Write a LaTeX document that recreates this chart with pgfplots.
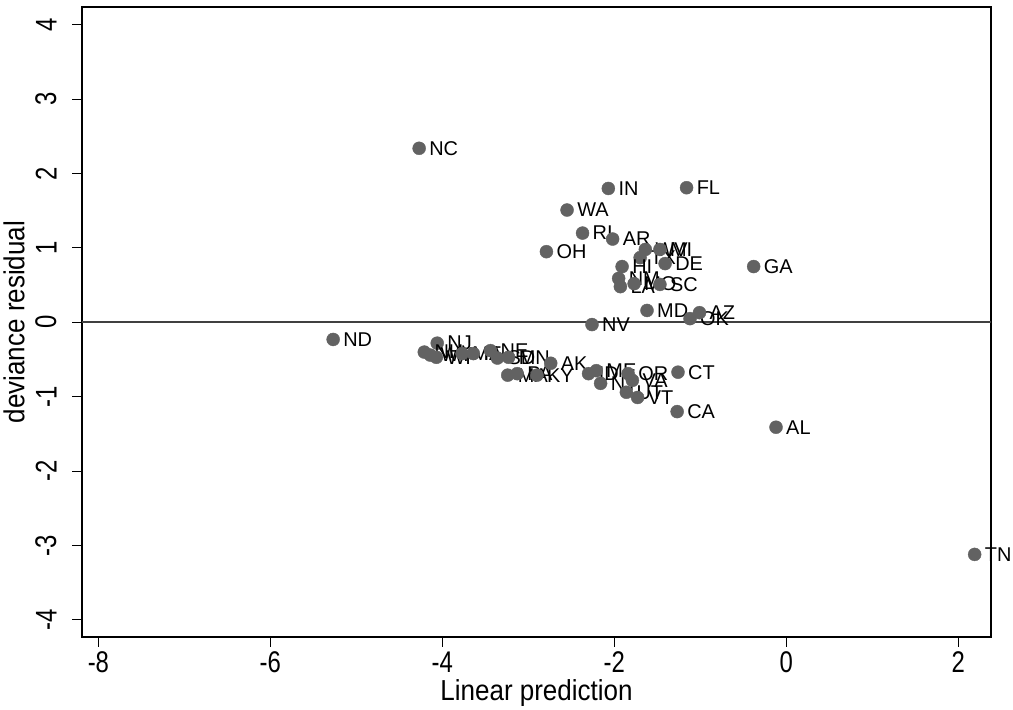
\documentclass[border=0pt]{standalone}
\usepackage{fontspec}
\setmainfont{Liberation Sans}
\newfontfamily\condfont{Liberation Sans}[FakeStretch=0.8]
\newfontfamily\titlefont{Liberation Sans}[FakeStretch=0.9]
\usepackage{pgfplots}
\pgfplotsset{compat=1.18}
\usepackage{pgfplotstable}
\definecolor{dotgray}{RGB}{98,98,98}
\definecolor{linegray}{RGB}{64,64,64}
\pgfplotstableread{
x y lab
-4.27 2.34 NC
-2.07 1.80 IN
-1.16 1.81 FL
-2.55 1.51 WA
-2.37 1.20 RI
-2.02 1.12 AR
-2.79 0.95 OH
-1.70 0.87 TX
-1.64 0.98 WV
-1.47 0.98 MI
-1.41 0.79 DE
-1.91 0.75 HI
-0.38 0.75 GA
-1.95 0.59 NM
-1.93 0.48 LA
-1.77 0.52 MO
-1.47 0.51 SC
-1.62 0.16 MD
-2.26 -0.03 NV
-1.12 0.05 OK
-1.01 0.13 AZ
-5.27 -0.23 ND
-4.06 -0.28 NJ
-4.21 -0.40 NH
-4.14 -0.44 WY
-4.07 -0.47 WI
-3.77 -0.42 MT
-3.64 -0.42 IA
-3.44 -0.38 NE
-3.36 -0.48 SD
-3.23 -0.47 MN
-3.24 -0.71 MA
-3.13 -0.69 PA
-2.90 -0.71 KY
-2.74 -0.55 AK
-2.30 -0.69 ID
-2.21 -0.65 ME
-2.16 -0.82 NY
-1.84 -0.69 OR
-1.79 -0.78 VA
-1.86 -0.94 UT
-1.73 -1.01 VT
-1.26 -0.67 CT
-1.27 -1.20 CA
-0.12 -1.41 AL
2.19 -3.12 TN
}\datatable
\begin{document}
\begin{tikzpicture}
\begin{axis}[
  scale only axis,
  width=909bp, height=630bp,
  xmin=-8.19, xmax=2.38,
  ymin=-4.23, ymax=4.24,
  xtick={-8,-6,-4,-2,0,2},
  ytick={-4,-3,-2,-1,0,1,2,3,4},
  tick align=outside,
  xtick pos=left, ytick pos=left,
  major tick length=10bp,
  every tick/.style={black, line width=1bp},
  axis line style={black, line width=1.2bp},
  /pgf/number format/assume math mode=true,
  ticklabel style={font=\condfont\fontsize{30}{30}\selectfont},
  yticklabel style={rotate=90, anchor=south, yshift=12bp},
  xticklabel style={yshift=-1bp},
  xlabel={Linear prediction},
  ylabel={deviance residual},
  label style={font=\titlefont\fontsize{29}{29}\selectfont},
  xlabel style={yshift=0bp},
  ylabel style={yshift=4bp},
  clip=false,
]
\addplot[linegray, line width=2bp, no marks] coordinates {(-8.19,0) (2.38,0)};
\addplot[
  only marks, mark=*, mark size=6.5bp,
  mark options={draw=dotgray, fill=dotgray},
  point meta=explicit symbolic,
  nodes near coords,
  every node near coord/.append style={anchor=west, xshift=10bp, yshift=0bp, black, font=\fontsize{20}{20}\selectfont, inner sep=0pt},
] table[x=x, y=y, meta=lab] {\datatable};
\end{axis}
\path (current axis.south west) ++(-82bp,-70bp) rectangle ++(1013bp,707bp);
\end{tikzpicture}
\end{document}
